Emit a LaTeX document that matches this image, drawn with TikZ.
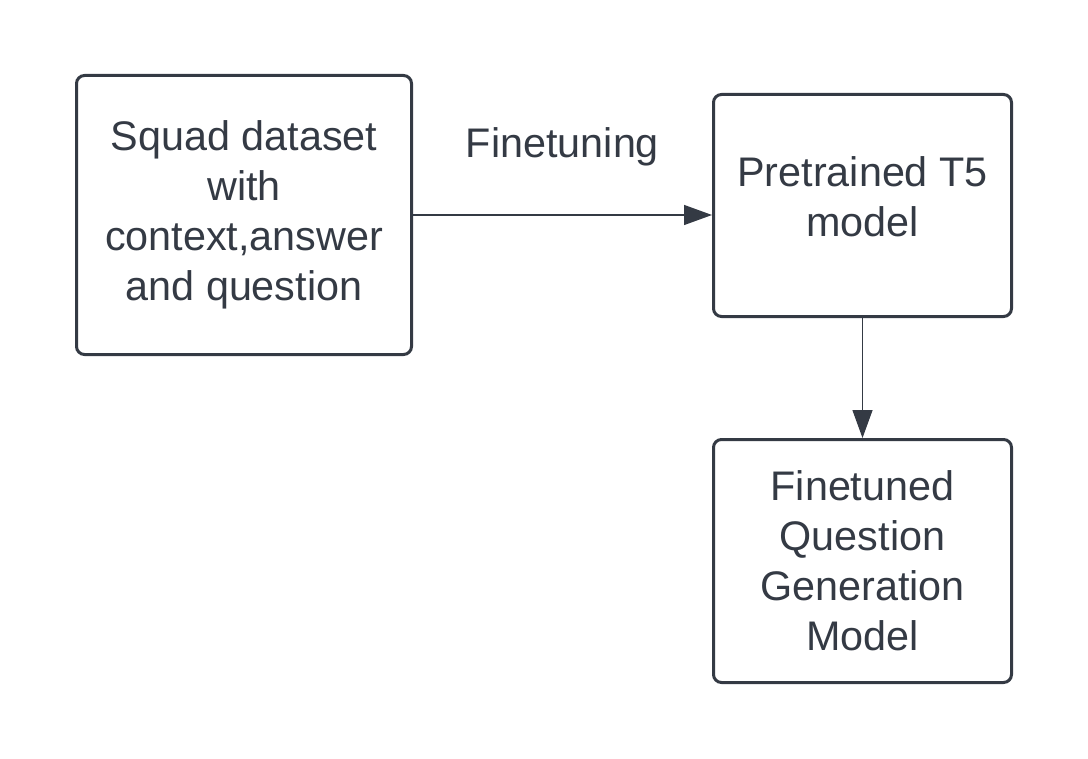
\documentclass[tikz,border=0pt]{standalone}
\usepackage{fontspec}
\setmainfont{Liberation Sans}
\usepackage{tikz}
\usetikzlibrary{arrows.meta,positioning}
\definecolor{ink}{HTML}{343A44}

\begin{document}
\begin{tikzpicture}[
  font=\fontsize{31pt}{37.5pt}\selectfont,
  text=ink,
  block/.style={rounded corners=6pt, draw=ink, line width=2.25pt, fill=white, align=center, inner sep=0pt},
  arr/.style={-{Triangle[length=21pt, width=15pt]}, draw=ink, line width=1pt},
]
  \useasboundingbox (0,0) rectangle (816pt,-569.25pt);

  \node[block, minimum width=251.25pt, minimum height=209.25pt] (squad) at (183pt,-161.25pt)
    {Squad dataset\\with\\context,answer\\and question};

  \node[block, right=224.25pt of squad, yshift=7.125pt, minimum width=223.5pt, minimum height=166.5pt, text depth=13pt] (pretrained)
    {Pretrained T5\\model};

  \node[block, below=90pt of pretrained, minimum width=223.5pt, minimum height=182.25pt] (finetuned)
    {Finetuned\\Question\\Generation\\Model};

  \draw[arr] (squad.east) -- node[midway, yshift=51pt] (label) {Finetuning} (squad.east -| pretrained.west);
  \draw[arr] (pretrained.south) -- (finetuned.north);
\end{tikzpicture}
\end{document}
